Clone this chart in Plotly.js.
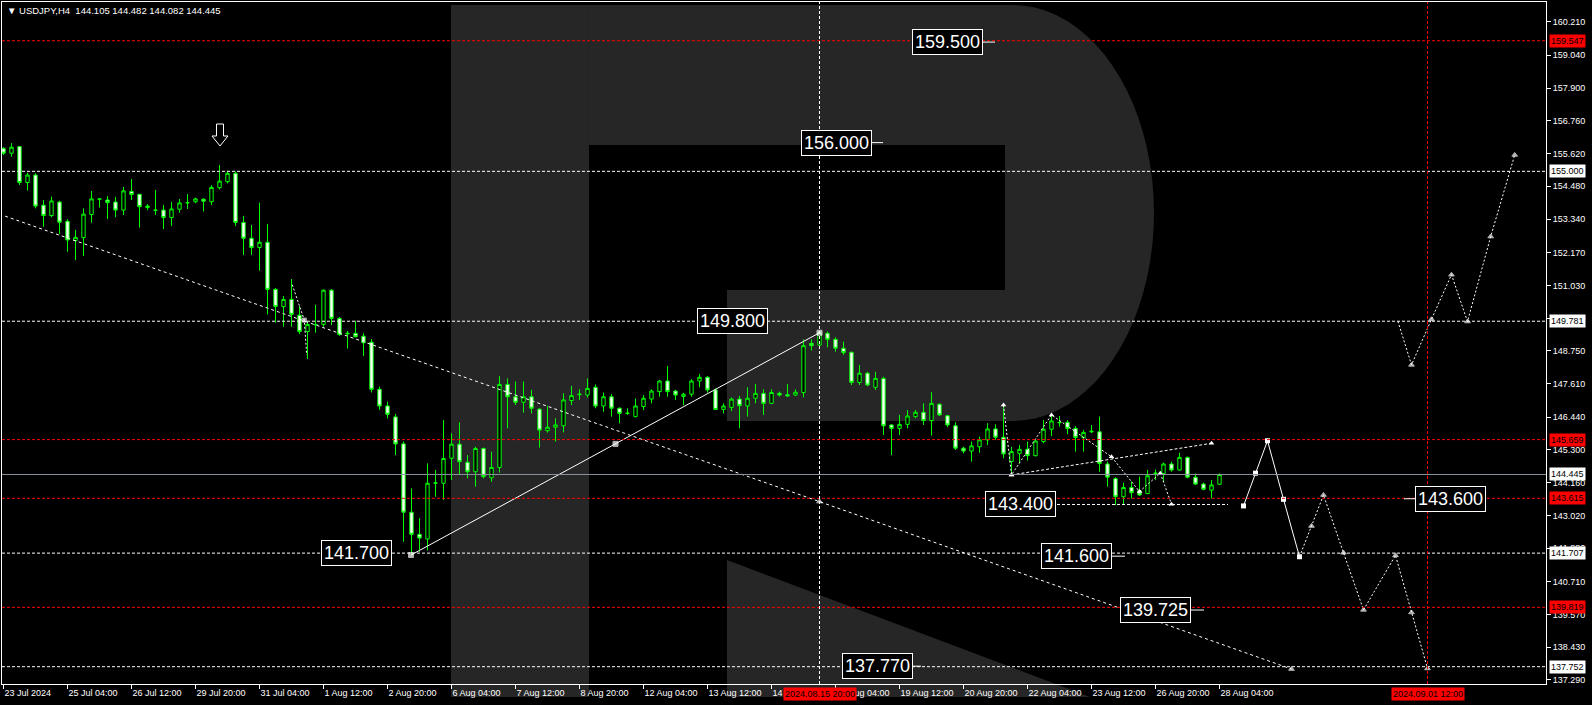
<!DOCTYPE html>
<html><head><meta charset="utf-8">
<script src="https://cdn.plot.ly/plotly-3.0.1.min.js"></script>
<style>html,body{margin:0;padding:0;background:#000;overflow:hidden}#chart{width:1592px;height:705px}</style>
</head><body><div id="chart"></div>
<script>
// ---------------- DATA ----------------
const symbolName = "USDJPY,H4";
const openP = [155.80,155.63,155.86,154.61,154.87,153.82,153.46,153.93,153.26,152.59,
152.69,153.50,154.04,154.00,153.93,153.65,154.30,154.20,153.74,153.64,
153.65,153.39,153.68,153.90,153.94,154.03,153.94,154.43,154.64,154.93,
153.22,152.67,152.35,152.53,150.89,150.29,150.54,149.99,149.42,149.67,
149.67,150.86,149.88,149.34,149.36,149.26,149.05,147.41,146.83,146.45,
145.51,143.13,142.36,142.20,144.14,144.14,145.01,145.50,144.87,144.54,
145.35,144.33,144.69,147.58,147.15,146.96,147.15,146.72,145.97,146.09,
146.14,147.02,147.22,147.21,147.48,146.83,147.15,146.75,146.57,146.46,
146.81,147.07,147.33,147.70,147.35,147.16,147.24,147.70,147.83,147.39,
146.71,146.78,147.07,146.83,147.10,147.27,146.92,147.27,147.22,147.21,
147.30,149.01,148.95,149.36,149.15,148.84,148.70,147.65,147.97,147.48,
147.79,146.17,146.05,146.19,146.46,146.61,146.32,146.89,146.49,146.14,
145.36,145.26,145.41,145.65,146.03,145.74,144.90,145.18,145.32,145.10,
145.59,146.02,146.26,146.26,146.05,145.73,145.93,145.93,144.81,144.30,
143.67,143.99,143.88,143.78,144.48,144.48,144.81,144.60,145.04,144.35,
144.11,143.90,144.105];
const highP = [155.84,155.98,155.88,154.95,154.93,154.00,154.12,153.98,153.33,152.96,
153.71,154.32,154.06,154.14,154.11,154.46,154.73,154.20,153.86,154.35,
153.83,153.94,154.04,154.21,154.08,154.06,154.52,155.22,155.02,154.99,
153.45,153.13,153.91,153.17,150.94,150.66,151.25,150.31,149.76,150.35,
150.89,150.90,149.93,149.44,149.79,149.36,149.16,147.50,146.98,146.55,
145.59,143.96,142.92,144.83,144.60,146.34,145.88,146.26,145.12,145.41,
145.38,145.24,147.87,147.79,147.68,147.68,147.39,146.75,146.83,146.40,
147.27,147.53,147.41,147.79,147.58,147.30,147.24,146.78,146.75,147.09,
147.21,147.41,147.73,148.22,147.39,147.29,147.76,147.94,147.87,147.44,
146.92,147.12,147.18,147.48,147.60,147.41,147.41,147.33,147.59,147.41,
149.15,149.15,149.42,149.42,149.22,149.07,148.72,148.26,148.02,148.02,
147.85,146.19,146.52,146.69,146.69,146.92,147.31,146.92,146.52,146.26,
145.41,145.59,145.76,146.23,146.19,146.86,145.41,145.47,145.59,145.65,
146.34,146.48,146.48,146.34,146.13,145.99,146.17,146.46,144.89,144.35,
144.16,144.20,144.37,144.60,144.62,144.86,144.89,145.20,145.07,144.48,
144.16,144.25,144.482];
const lowP = [155.57,155.51,154.52,154.33,153.71,153.07,153.40,152.82,152.20,151.91,
152.05,153.21,153.74,153.34,153.40,153.48,154.00,153.04,153.65,153.48,
152.99,153.10,153.56,153.69,153.89,153.60,153.83,154.37,154.58,153.10,
152.09,152.09,151.54,150.02,149.73,149.59,149.59,149.34,148.47,149.38,
149.59,149.65,149.27,148.83,149.22,148.57,147.30,146.70,146.40,145.12,
142.10,141.69,141.75,141.80,143.67,143.56,144.25,144.43,144.31,144.02,
144.31,144.19,144.51,146.05,146.86,146.60,146.57,145.38,145.90,145.59,
145.91,146.86,147.04,147.12,146.75,146.63,146.46,146.23,146.52,146.43,
146.69,146.92,147.15,147.15,147.04,146.86,147.15,147.48,147.30,146.69,
146.57,146.65,146.05,146.46,146.92,146.52,146.90,147.16,147.15,147.18,
147.13,148.76,148.90,148.87,148.72,148.61,147.56,147.56,147.52,147.39,
145.82,145.12,145.82,146.05,146.40,146.17,145.80,146.48,146.09,145.30,
145.18,144.89,145.20,145.47,145.65,145.01,144.45,144.83,144.93,145.07,
145.53,145.78,146.11,145.85,145.24,145.24,145.89,144.54,144.02,143.38,
143.38,143.61,143.70,143.76,144.25,144.19,144.54,144.58,144.31,144.08,
143.90,143.61,144.082];
const closeP = [155.63,155.84,154.61,154.87,153.79,153.46,153.97,153.23,152.61,152.70,
153.51,154.04,154.03,153.91,153.65,154.32,154.19,153.77,153.79,153.65,
153.39,153.69,153.90,153.91,154.04,153.96,154.44,154.66,154.93,153.22,
152.67,152.35,152.53,150.89,150.29,150.54,150.02,149.42,149.67,149.66,
150.86,149.88,149.32,149.36,149.24,149.03,147.41,146.83,146.54,145.51,
143.13,142.36,142.23,144.14,144.15,145.00,145.50,144.89,144.54,145.35,
144.37,144.69,147.58,147.15,146.96,147.15,146.75,145.99,146.09,146.17,
147.04,147.19,147.24,147.44,146.83,147.15,146.75,146.57,146.58,146.83,
147.10,147.35,147.70,147.33,147.21,147.24,147.70,147.83,147.39,146.71,
146.83,147.07,146.84,147.10,147.27,146.92,147.30,147.21,147.18,147.31,
148.93,148.93,149.39,149.15,148.84,148.69,147.65,147.97,147.56,147.79,
146.14,146.05,146.19,146.48,146.61,146.32,146.92,146.52,146.17,145.36,
145.26,145.44,145.65,146.03,145.74,145.16,145.24,145.32,145.10,145.61,
146.02,146.31,146.25,146.05,145.73,145.91,145.95,144.83,144.35,143.67,
143.99,143.81,143.73,144.40,144.49,144.81,144.60,145.04,144.35,144.11,
143.93,144.08,144.445];

const xTickIdx = [0,8,16,24,32,40,48,56,64,72,80,88,96,104,112,120,128,136,144,152];
const xTickText = ["23 Jul 2024","25 Jul 04:00","26 Jul 12:00","29 Jul 20:00","31 Jul 04:00",
 "1 Aug 12:00","2 Aug 20:00","6 Aug 04:00","7 Aug 12:00","8 Aug 20:00","12 Aug 04:00",
 "13 Aug 12:00","14 Aug 20:00","16 Aug 04:00","19 Aug 12:00","20 Aug 20:00","22 Aug 04:00",
 "23 Aug 12:00","26 Aug 20:00","28 Aug 04:00"];
const yTickVals = [160.210,159.040,157.900,156.760,155.620,154.480,153.340,152.170,151.030,149.890,
 148.750,147.610,146.440,145.300,144.160,143.020,141.880,140.710,139.570,138.430,137.290];

const redLevels = [159.547,145.659,143.615,139.819];
const whiteLevels = [155.000,149.781,141.707,137.752];
const timeMarkIdx = [102,178];
const timeMarkText = ["2024.08.15 20:00","2024.09.01 12:00"];

// analyst lines
const swingX = [50.94,76.5,102];
const swingY = [141.64,145.51,149.38];
const trendX = [0.2,102,161];
const trendY = [153.44,143.50,137.67];
const fcSolidX = [155,156.5,158,160,162];
const fcSolidY = [143.35,144.49,145.62,143.58,141.58];
const fcLowX = [162,163.5,165,167.5,170,174,176,178];
const fcLowY = [141.58,142.65,143.73,141.72,139.73,141.63,139.64,137.69];
const fcUpX = [174.3,176,178.5,181,183,185.9,188.9];
const fcUpY = [149.78,148.26,149.85,151.40,149.77,152.73,155.57];
const triUpX = [126,151];
const triUpY = [144.43,145.53];
const waveX = [125,126,131,138.5,142,144.6,146];
const waveY = [146.86,144.43,146.52,145.06,143.85,144.49,143.41];
const smallX = [36.1,37.6,37.9];
const smallY = [151.05,149.82,148.60];

// target labels: price level
const targetLevels = [159.500,156.000,149.800,141.700,143.400,141.600,139.725,137.770,143.600];

// ---------------- GEOMETRY / STYLE ----------------
const W=1592,H=705,ML=2,MR=46,MT=2,MB=21;
const PW=W-ML-MR, PH=H-MT-MB;
const BAR=8, X0=3.5;
const idx = px => (px-X0)/BAR;
const xr=[idx(ML), idx(W-MR)];
const PXU=28.72, REFP=160.21, REFY=21.7;
const yr=[REFP-(H-MB-REFY)/PXU, REFP+(REFY-MT)/PXU];
const paperX = px => (px-ML)/PW, paperY = py => (H-MB-py)/PH;
const pathOf = pts => pts.map((p,k)=>(k?'L':'M')+paperX(p[0]).toFixed(5)+','+paperY(p[1]).toFixed(5)).join(' ')+' Z';
const WM='#262626';
const FONT='"Liberation Sans", Arial, sans-serif';

// watermark R
const bowl=[[589,5],[1013,5]];
for(let k=1;k<40;k++){const t=-Math.PI/2+Math.PI*k/40;bowl.push([1013+141*Math.cos(t),213+208*Math.sin(t)]);}
bowl.push([1013,421],[727,421],[727,290],[1005,290],[1005,145],[589,145]);
const stem=[[451,5],[589,5],[589,697],[451,697]];
const leg=[[727,560],[1090,697],[727,697]];
const arrow=[[216.5,124],[223.5,124],[223.5,136],[228,136],[220,146],[212,136],[216.5,136]];

const shapes=[
 {type:'path',xref:'paper',yref:'paper',path:pathOf(stem),fillcolor:WM,line:{width:0},layer:'below'},
 {type:'path',xref:'paper',yref:'paper',path:pathOf(bowl),fillcolor:WM,line:{width:0},layer:'below'},
 {type:'path',xref:'paper',yref:'paper',path:pathOf(leg),fillcolor:WM,line:{width:0},layer:'below'},
];
redLevels.forEach(v=>shapes.push({type:'line',xref:'paper',x0:0,x1:1,yref:'y',y0:v,y1:v,line:{color:'#ff0000',width:1,dash:'3px,2px'}}));
whiteLevels.forEach(v=>shapes.push({type:'line',xref:'paper',x0:0,x1:1,yref:'y',y0:v,y1:v,line:{color:'#ffffff',width:1,dash:'3px,2px'}}));
shapes.push({type:'line',xref:'paper',x0:0,x1:1,yref:'y',y0:closeP[closeP.length-1],y1:closeP[closeP.length-1],line:{color:'#8a939d',width:1}});
timeMarkIdx.forEach((v,k)=>shapes.push({type:'line',xref:'x',x0:v,x1:v,yref:'paper',y0:0,y1:1,line:{color:k?'#ff0000':'#ffffff',width:1,dash:'3px,2px'}}));
shapes.push({type:'path',xref:'paper',yref:'paper',path:pathOf(arrow),fillcolor:'#000',line:{color:'#fff',width:1}});

const W1='#ffffff';
const traces=[
 {type:'candlestick',x:openP.map((_,i)=>i),open:openP,high:highP,low:lowP,close:closeP,
  increasing:{line:{color:'#00ff00',width:1},fillcolor:'#000000'},
  decreasing:{line:{color:'#00ff00',width:1},fillcolor:'#ffffff'},whiskerwidth:0,hoverinfo:'skip'},
 {type:'scatter',mode:'lines+markers',x:swingX,y:swingY,line:{color:W1,width:1},marker:{symbol:'square',size:[5,5,5],color:W1}},
 {type:'scatter',mode:'lines+markers',x:trendX,y:trendY,line:{color:W1,width:1,dash:'3px,3px'},marker:{symbol:'triangle-up',size:[0,5,5],color:W1}},
 {type:'scatter',mode:'lines+markers',x:fcSolidX,y:fcSolidY,line:{color:W1,width:1},marker:{symbol:'square',size:5,color:W1}},
 {type:'scatter',mode:'lines+markers',x:fcLowX,y:fcLowY,line:{color:W1,width:1,dash:'2px,2px'},marker:{symbol:'triangle-up',size:[0,5,5,5,5,5,5,5],color:W1}},
 {type:'scatter',mode:'lines+markers',x:fcUpX,y:fcUpY,line:{color:W1,width:1,dash:'2px,2px'},marker:{symbol:'triangle-up',size:[0,5,5,5,5,5,5],color:W1}},
 {type:'scatter',mode:'lines+markers',x:triUpX,y:triUpY,line:{color:W1,width:1,dash:'3px,2px'},marker:{symbol:'triangle-up',size:5,color:W1}},
 {type:'scatter',mode:'lines+markers',x:waveX,y:waveY,line:{color:W1,width:1,dash:'2px,2px'},marker:{symbol:'triangle-up',size:5,color:W1}},
 {type:'scatter',mode:'lines+markers',x:smallX,y:smallY,line:{color:W1,width:1,dash:'2px,2px'},marker:{symbol:'square',size:[0,4,0],color:W1}},
 {type:'scatter',mode:'lines',x:[idx(1057),idx(1228)],y:[targetLevels[4],targetLevels[4]],line:{color:W1,width:1,dash:'3px,2px'}}
];

const ann=[];
ann.push({xref:'paper',yref:'paper',x:paperX(5),y:paperY(10.5),xanchor:'left',yanchor:'middle',showarrow:false,
 text:'\u25BC '+symbolName+'\u00a0\u00a0'+[openP.at(-1),highP.at(-1),lowP.at(-1),closeP.at(-1)].map(v=>v.toFixed(3)).join(' '),
 font:{family:FONT,size:9.5,color:'#fff'}});
const lvlLab=(v,bg)=>ann.push({xref:'paper',x:paperX(1549),xanchor:'left',yref:'y',y:v,yanchor:'middle',showarrow:false,
 text:v.toFixed(3),bgcolor:bg,borderpad:1,font:{family:FONT,size:9,color:'#000'}});
redLevels.forEach(v=>lvlLab(v,'#ff0000'));
whiteLevels.forEach(v=>lvlLab(v,'#ffffff'));
lvlLab(closeP.at(-1),'#ffffff');
timeMarkIdx.forEach((v,k)=>ann.push({xref:'x',x:v,yref:'paper',y:paperY(694),xanchor:'center',yanchor:'middle',showarrow:false,
 text:timeMarkText[k],bgcolor:'#ff0000',borderpad:1,font:{family:FONT,size:9,color:'#000'}}));
const tgtPos=[[995,-48],[883,-47],[732.5,0],[356.5,0],[1020.3,0],[1125,-49],[1204,-49],[921,-44],[1404,46.5]];
targetLevels.forEach((v,k)=>{
 const [px,ax]=tgtPos[k];
 const a={xref:'x',x:idx(px),yref:'y',y:v,text:v.toFixed(3),bgcolor:'#000',bordercolor:'#fff',borderwidth:1,borderpad:2,
  font:{family:FONT,size:18,color:'#fff'}};
 if(ax){Object.assign(a,{showarrow:true,ax:ax,ay:0,arrowhead:0,arrowwidth:1,arrowcolor:'#fff',standoff:0});}
 else a.showarrow=false;
 ann.push(a);
});

const layout={
 width:W,height:H,margin:{l:ML,r:MR,t:MT,b:MB,pad:0},
 paper_bgcolor:'#000',plot_bgcolor:'rgba(0,0,0,0)',showlegend:false,hovermode:false,
 boxgap:0.4,
 xaxis:{range:xr,showgrid:false,zeroline:false,showline:true,mirror:true,linecolor:'#fff',linewidth:1,
  ticks:'outside',ticklen:4,tickcolor:'#fff',tickvals:xTickIdx,ticktext:xTickText,ticklabelposition:'outside right',
  tickfont:{family:FONT,size:9,color:'#fff'},rangeslider:{visible:false},fixedrange:true},
 yaxis:{range:yr,side:'right',showgrid:false,zeroline:false,showline:true,mirror:true,linecolor:'#fff',linewidth:1,
  ticks:'outside',ticklen:4,tickcolor:'#fff',tickvals:yTickVals,ticktext:yTickVals.map(v=>v.toFixed(3)),
  tickfont:{family:FONT,size:9,color:'#fff'},fixedrange:true},
 shapes:shapes,annotations:ann
};
Plotly.newPlot('chart',traces,layout,{staticPlot:true,displayModeBar:false});
</script></body></html>
